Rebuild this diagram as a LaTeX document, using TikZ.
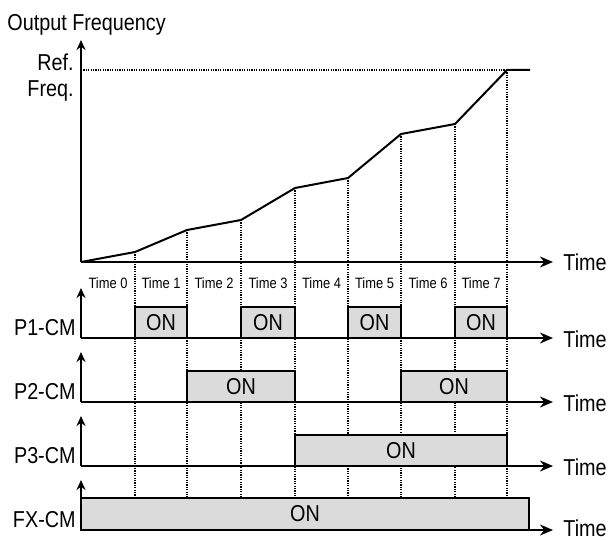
\documentclass[tikz,border=0pt]{standalone}
\usepackage{fontspec}
\setmainfont{Liberation Sans}[FakeStretch=0.86]
\usetikzlibrary{arrows.meta,calc}

\tikzset{
    axis/.style={line width=1pt, -{Stealth[length=6.5pt,width=5.5pt]}},
    sigaxis/.style={line width=1pt, -{Stealth[length=5pt,width=4.5pt]}},
    guide/.style={line width=0.9pt, dash pattern=on 0.6pt off 0.6pt},
    onbox/.style={draw, line width=0.9pt, fill=black!14},
    bigtext/.style={font=\fontsize{11.5}{13}\selectfont, inner sep=0pt},
    smalltext/.style={font=\fontsize{7.5}{9}\selectfont, inner sep=0pt},
}

\begin{document}
\begin{tikzpicture}[x=0.5pt,y=-0.5pt]
    \useasboundingbox (0,0) rectangle (609,540);

    % points of the frequency curve
    \foreach \i/\x/\y in {0/81/262, 1/135/252, 2/187/230, 3/241/220,
        4/295/188, 5/348/178, 6/401/134, 7/455/124, 8/507/70}
        \coordinate (t\i) at (\x,\y);
    \coordinate (tend) at (530,70);
    \coordinate (reflevel) at (81,70);
    \coordinate (freqtip) at (81,40);
    \coordinate (timeend) at (553,262);
    \coordinate (fxtop) at (81,498);

    % guides
    \foreach \i in {1,...,8}
        \draw [guide]
            (t\i) -- (t\i |- fxtop)
            ;
    \draw [guide]
        (reflevel) -- (t8)
        ;

    % frequency plot
    \draw [line width=1pt, line join=round]
        (t0) -- (t1) -- (t2) -- (t3) -- (t4) -- (t5) -- (t6) -- (t7) -- (t8) -- (tend)
        ;
    \draw [sigaxis] (t0) -- (freqtip);
    \draw [axis] (t0) -- (timeend);

    \node [bigtext, anchor=base west] (outfreq) at (7,31) {Output Frequency};
    \node [bigtext, anchor=base east] (ref) at (74,70) {Ref.};
    \node [bigtext, anchor=base east] (freq) at (74,97) {Freq.};
    \node [bigtext, anchor=west] (timelabel) at (563,262) {Time};

    \foreach \i/\x in {0/108, 1/161, 2/214, 3/268, 4/321.5, 5/374.5, 6/428, 7/481}
        \node [smalltext, anchor=base] (slot\i) at (\x,288) {Time \i};

    % signal rows
    \foreach \row/\base in {p1/338, p2/402, p3/466, fx/530} {
        \coordinate (\row base) at (81,\base);
        \coordinate (\row top) at (81,\base-31);
        \coordinate (\row tip) at (81,\base-50);
        \coordinate (\row end) at (553,\base);
    }

    \foreach \row/\a/\b [count=\k] in {p1/1/2, p1/3/4, p1/5/6, p1/7/8,
        p2/2/4, p2/6/8, p3/4/8} {
        \draw [onbox]
            (t\a |- \row base) rectangle (t\b |- \row top)
            ;
        \node [bigtext] (on\k)
            at ($(t\a |- \row base)!0.5!(t\b |- \row top)$) {ON};
    }
    \coordinate (fxright) at (529,498);
    \draw [onbox]
        (fxbase) rectangle (fxright)
        ;
    \node [bigtext] (onfx) at ($(fxbase)!0.5!(fxright)$) {ON};

    \foreach \row/\lab/\dy in {p1/P1-CM/1, p2/P2-CM/1, p3/P3-CM/1, fx/FX-CM/-2} {
        \draw [sigaxis] (\row base) -- (\row tip);
        \draw [axis] (\row base) -- (\row end);
        \node [bigtext, anchor=base east] (\row label)
            at ($(\row base)+(-5,-3)$) {\lab};
        \node [bigtext, anchor=west] (\row time)
            at ($(\row end)+(10,\dy)$) {Time};
    }
\end{tikzpicture}
\end{document}
